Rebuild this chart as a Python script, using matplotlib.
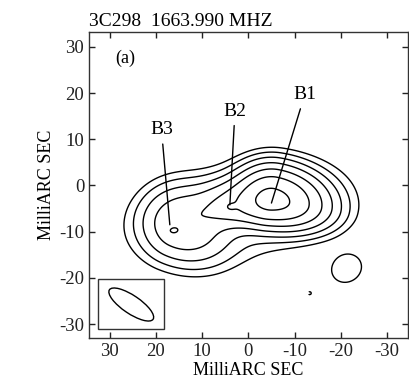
import numpy as np
import matplotlib
matplotlib.use("Agg")
import matplotlib.pyplot as plt
from matplotlib.patches import Rectangle, Ellipse

plt.rcParams["font.family"] = ["Liberation Serif", "DejaVu Serif"]
plt.rcParams["axes.unicode_minus"] = False

# contour levels (relative units), negative one is drawn dashed
levels = [-1, 1, 2, 4, 8, 16, 32, 64]

# brightness components (split gaussians):
# x, y, amplitude, sigma toward +x, sigma toward -x, sigma up, sigma down, angle
comp_names = ["B1", "jet", "B3 lobe", "envelope", "B2", "B3", "blob", "neg"]
comp_x = [-5.3, 2.0, 15.0, 1.0, 4.0, 16.3, -21.3, -13.3]
comp_y = [-3.1, -4.5, -8.5, -5.5, -4.6, -9.8, -18.0, -23.3]
comp_amp = [72.0, 20.0, 13.0, 3.5, 8.0, 4.0, 1.8, -1.3]
comp_spx = [4.0, 5.5, 4.6, 14.0, 0.9, 0.7, 2.6, 0.45]
comp_snx = [6.0, 5.0, 6.0, 13.0, 0.9, 0.7, 2.6, 0.45]
comp_sup = [3.7, 3.2, 4.5, 6.0, 0.7, 0.45, 3.0, 0.45]
comp_sdn = [3.0, 2.4, 4.3, 6.0, 0.7, 0.45, 3.0, 0.45]
comp_pa = [10.0, -5.0, 25.0, -11.0, 0.0, 0.0, 60.0, 0.0]

# component labels
lab_names = ["B1", "B2", "B3"]
lab_text_x = [-12.2, 2.9, 18.8]
lab_text_y = [19.6, 16.0, 12.0]
lab_pt_x = [-5.0, 4.0, 17.0]
lab_pt_y = [-3.8, -4.2, -8.5]

# restoring beam
beam_x, beam_y = 25.35, -25.75
beam_w, beam_h, beam_pa = 11.4, 3.9, 34.0

xx, yy = np.meshgrid(np.linspace(-35, 35, 600), np.linspace(-34, 34, 600))

field = np.zeros_like(xx)
for i in range(len(comp_x)):
    t = np.deg2rad(comp_pa[i])
    u = (xx - comp_x[i]) * np.cos(t) + (yy - comp_y[i]) * np.sin(t)
    v = -(xx - comp_x[i]) * np.sin(t) + (yy - comp_y[i]) * np.cos(t)
    su = np.where(u > 0, comp_spx[i], comp_snx[i])
    sv = np.where(v > 0, comp_sup[i], comp_sdn[i])
    field += comp_amp[i] * np.exp(-0.5 * ((u / su) ** 2 + (v / sv) ** 2))

fig = plt.figure(figsize=(4.09, 3.85), dpi=100)
ax = fig.add_axes([0.2176, 0.1208, 0.7792, 0.7961])

ax.contour(xx, yy, field, levels=levels, colors="black", linewidths=1.0)

ax.set_xlim(34.5, -34.5)
ax.set_ylim(-33.1, 33.2)
ax.set_xticks([30, 20, 10, 0, -10, -20, -30])
ax.set_yticks([-30, -20, -10, 0, 10, 20, 30])
ax.tick_params(direction="in", length=4.5, width=1, top=True, right=True,
               labelsize=13.5, colors="#222222")
for s in ax.spines.values():
    s.set_linewidth(1.0)
    s.set_color("#333333")

ax.set_xlabel("MilliARC SEC", fontsize=13, labelpad=1)
ax.set_ylabel("MilliARC SEC", fontsize=13, labelpad=3)
ax.set_title("3C298  1663.990 MHZ", loc="left", fontsize=14, pad=4)

ax.text(26.7, 27.5, "(a)", fontsize=13, ha="center", va="center")

for i in range(len(lab_names)):
    ax.annotate(lab_names[i], xy=(lab_pt_x[i], lab_pt_y[i]),
                xytext=(lab_text_x[i], lab_text_y[i]), fontsize=14,
                ha="center", va="center",
                arrowprops=dict(arrowstyle="-", lw=1.0, color="black",
                                shrinkA=2, shrinkB=0))

ax.add_patch(Rectangle((32.5, -31.0), 18.25 - 32.5, 10.8, fill=False,
                       lw=1.0, edgecolor="#333333"))
ax.add_patch(Ellipse((beam_x, beam_y), beam_w, beam_h, angle=beam_pa,
                     fill=False, lw=1.0, edgecolor="black"))

fig.savefig("out.png", dpi=100)
